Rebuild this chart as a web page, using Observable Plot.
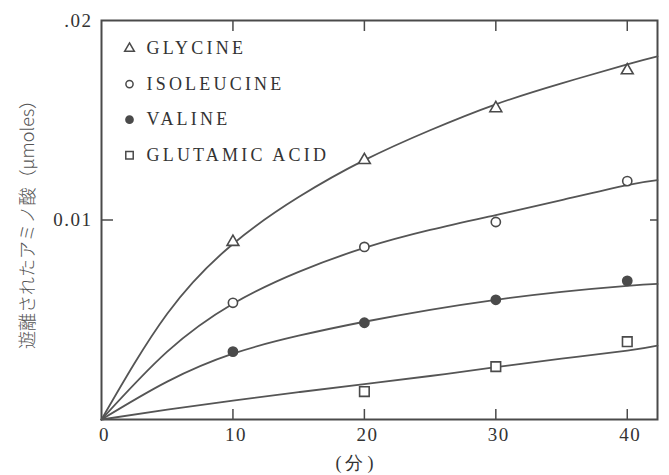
<!DOCTYPE html>
<html><head><meta charset="utf-8">
<script src="https://cdn.jsdelivr.net/npm/d3@7"></script>
<script src="https://cdn.jsdelivr.net/npm/@observablehq/plot@0.6"></script>
<style>
body{margin:0;background:#fff}
#chart svg{font-family:"Liberation Serif","DejaVu Serif",serif;}
#chart g[aria-label="x-axis tick label"] text,
#chart g[aria-label="y-axis tick label"] text{letter-spacing:1.5px}
#chart .legend text{letter-spacing:3.2px}
#chart .xtitle text{letter-spacing:4px}
</style></head><body><div id="chart"></div>
<script>
// ---- data ----
const series = ["GLYCINE", "ISOLEUCINE", "VALINE", "GLUTAMIC ACID"];
const symbols = ["triangle", "circle", "circle", "square"];
const fills = ["white", "white", "#4a4a4a", "white"];

const sampleMinutes = [10, 20, 30, 40];
const glycinePts    = [0.0089, 0.0130, 0.0156, 0.0175];
const isoleucinePts = [0.00585, 0.00865, 0.0099, 0.01195];
const valinePts     = [0.0034, 0.00485, 0.0060, 0.00695];
const glutamicPts   = [null, 0.0014, 0.00265, 0.0039];

const curveMinutes    = [0, 5, 10, 15, 20, 25, 30, 35, 40, 42.3];
const glycineCurve    = [0, 0.0053, 0.0088, 0.01115, 0.0130, 0.0145, 0.0158, 0.01685, 0.0178, 0.0182];
const isoleucineCurve = [0, 0.0034, 0.0058, 0.0074, 0.0086, 0.0095, 0.01025, 0.0110, 0.01175, 0.0120];
const valineCurve     = [0, 0.0019, 0.0033, 0.0042, 0.0049, 0.0055, 0.0060, 0.0064, 0.0067, 0.0068];
const glutamicCurve   = [0, 0.0005, 0.00095, 0.00137, 0.00177, 0.00218, 0.00262, 0.00305, 0.00345, 0.0037];

const xTickLabels = [0, 10, 20, 30, 40];
const yTickLabels = [0.01, 0.02];
const yTickText = ["0.01", ".02"];
const xTitle = "(分)";
const yTitle = "遊離されたアミノ酸（μmoles）";

// ---- tables ----
const ptsList = [glycinePts, isoleucinePts, valinePts, glutamicPts];
const curveList = [glycineCurve, isoleucineCurve, valineCurve, glutamicCurve];
const points = ptsList.flatMap((arr, i) => arr.map((v, j) => ({s: i, x: sampleMinutes[j], y: v})).filter(d => d.y != null));
const curves = curveList.flatMap((arr, i) => arr.map((v, j) => ({s: i, x: curveMinutes[j], y: v})));

const ink = "#4a4a4a";
const marks = [
  Plot.frame({stroke: ink, strokeWidth: 2}),
  Plot.line(curves, {x: "x", y: "y", z: "s", curve: "natural", stroke: "#555", strokeWidth: 1.8}),
];
for (let i = 0; i < series.length; i++) {
  const r = symbols[i] === "triangle" ? 4.4 : symbols[i] === "square" ? 5.4 : 4.6;
  marks.push(Plot.dot(points.filter(d => d.s === i), {x: "x", y: "y", symbol: () => symbols[i], r, stroke: ink, strokeWidth: 1.6, fill: fills[i]}));
  const rl = symbols[i] === "triangle" ? 3.6 : symbols[i] === "square" ? 4.2 : 3.6;
  marks.push(Plot.dot([series[i]], {frameAnchor: "top-left", dx: 28, dy: 28 + i * 35.6, symbol: () => symbols[i], r: rl, stroke: ink, strokeWidth: 1.5, fill: fills[i]}));
  marks.push(Plot.text([series[i]], {frameAnchor: "top-left", dx: 45, dy: 28 + i * 35.6, lineAnchor: "middle", text: d => d, textAnchor: "start", fontSize: 18, fill: "#333", className: "legend"}));
}
marks.push(
  Plot.axisX({ticks: [10, 20, 30, 40], tickSize: -10, tickFormat: () => "", stroke: ink, strokeWidth: 1.5, label: null}),
  Plot.axisX({anchor: "top", ticks: [10, 20, 30, 40], tickSize: -10, tickFormat: () => "", stroke: ink, strokeWidth: 1.5, label: null}),
  Plot.axisX({ticks: xTickLabels, tickSize: 0, tickPadding: 8, fontSize: 19, fill: "#333", label: null, dx: 3}),
  Plot.axisY({ticks: [0.01], tickSize: -12, tickFormat: () => "", stroke: ink, strokeWidth: 1.5, label: null}),
  Plot.axisY({anchor: "right", ticks: [0.01], tickSize: -8, tickFormat: () => "", stroke: ink, strokeWidth: 1.5, label: null}),
  Plot.axisY({ticks: yTickLabels, tickSize: 0, tickPadding: 9, fontSize: 19, fill: "#333", tickFormat: v => yTickText[yTickLabels.indexOf(v)], label: null}),
  Plot.text([xTitle], {frameAnchor: "bottom", dx: -23, dy: 44, lineAnchor: "middle", text: d => d, fontSize: 18, fill: "#333", className: "xtitle"}),
  Plot.text([yTitle], {frameAnchor: "left", dx: -73, dy: 0, rotate: -90, textAnchor: "middle", lineAnchor: "middle", text: d => d, fontSize: 18, fill: "#555", fontFamily: "Noto Sans CJK JP", fontWeight: 300})
);

const chart = Plot.plot({
  width: 669, height: 475,
  marginLeft: 101, marginRight: 12, marginTop: 20, marginBottom: 56,
  x: {domain: [0, 42.3]},
  y: {domain: [0, 0.02]},
  style: {background: "#fff", overflow: "visible"},
  marks
});
document.getElementById("chart").append(chart);
</script></body></html>
